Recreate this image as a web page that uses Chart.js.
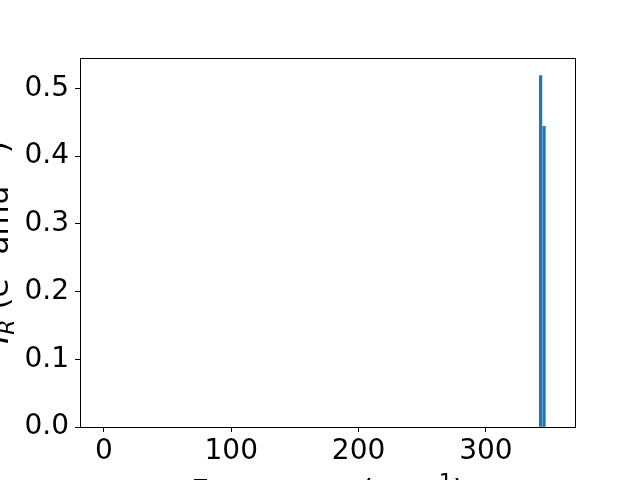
<!DOCTYPE html>
<html>
<head>
<meta charset="utf-8">
<script src="https://cdn.jsdelivr.net/npm/chart.js@4"></script>
<style>
  html, body { margin: 0; padding: 0; background: #fff; }
  #wrap { width: 640px; height: 480px; }
</style>
</head>
<body>
<div id="wrap"><canvas id="irChart" width="640" height="480"></canvas></div>
<script>
// mode frequencies (cm-1) and IR intensities
const frequencies = [343.0, 345.7];
const intensities = [0.519, 0.444];
const xTicks = [0, 100, 200, 300];
const yTicks = [0.0, 0.1, 0.2, 0.3, 0.4, 0.5];

const FONT = 'DejaVu Sans';

// draws a list of [text, sizeScale, yShift, italic] runs starting at x,y
const drawRuns = (ctx, runs, x, y, base) => {
    let cx = x;
    runs.forEach(([txt, scale, shift, italic]) => {
        ctx.font = (italic ? 'italic ' : '') + Math.round(base * scale) + 'px "' + FONT + '"';
        ctx.fillText(txt, cx, y + shift * base);
        cx += ctx.measureText(txt).width;
    });
};
const runsWidth = (ctx, runs, base) => {
    let w = 0;
    runs.forEach(([txt, scale, shift, italic]) => {
        ctx.font = (italic ? 'italic ' : '') + Math.round(base * scale) + 'px "' + FONT + '"';
        w += ctx.measureText(txt).width;
    });
    return w;
};

const frameAndTitles = {
    id: 'frameAndTitles',
    afterDraw(chart) {
        const { ctx, chartArea: a } = chart;
        ctx.save();
        ctx.strokeStyle = '#000';
        ctx.lineWidth = 1;
        ctx.strokeRect(a.left + 0.5, a.top + 0.5, a.right - a.left - 1, a.bottom - a.top);

        ctx.fillStyle = '#000';
        ctx.textBaseline = 'alphabetic';
        const base = 31;

        // x axis title (cut off by the bottom edge, like the original)
        const xRuns = [['Frequency (cm', 1, 0, false], ['\u22121', 0.7, -0.4, false], [')', 1, 0, false]];
        const xw = runsWidth(ctx, xRuns, base);
        drawRuns(ctx, xRuns, (a.left + a.right) / 2 - xw / 2, 501, base);

        // y axis title, rotated
        const yRuns = [['I', 1, 0, true], ['R', 0.7, 0.2, true], [' (e', 1, 0, false], ['2', 0.7, -0.4, false],
                       [' amu', 1, 0, false], ['\u22121', 0.7, -0.4, false], [')', 1, 0, false]];
        const yw = runsWidth(ctx, yRuns, base);
        ctx.translate(8, (a.top + a.bottom) / 2);
        ctx.rotate(-Math.PI / 2);
        drawRuns(ctx, yRuns, -yw / 2, 0, base);
        ctx.restore();
    }
};

const ctx = document.getElementById('irChart').getContext('2d');
new Chart(ctx, {
    type: 'bar',
    data: {
        datasets: [{
            data: frequencies.map((f, i) => ({ x: f, y: intensities[i] })),
            backgroundColor: '#1f77b4',
            borderWidth: 0,
            barThickness: 2.6
        }]
    },
    options: {
        responsive: false,
        animation: false,
        layout: { padding: { top: 58, right: 64, left: 0, bottom: 0 } },
        plugins: { legend: { display: false }, tooltip: { enabled: false } },
        scales: {
            x: {
                type: 'linear',
                min: -18.8,
                max: 370.8,
                offset: false,
                afterFit: (s) => { s.height = 53; },
                afterBuildTicks: (s) => { s.ticks = xTicks.map(v => ({ value: v })); },
                grid: { drawOnChartArea: false, drawTicks: true, tickLength: 5, color: '#000', offset: false },
                border: { display: false },
                ticks: { color: '#000', padding: 3, maxRotation: 0, font: { family: FONT, size: 28 } }
            },
            y: {
                min: 0,
                max: 0.545,
                afterFit: (s) => { s.width = 80; },
                afterBuildTicks: (s) => { s.ticks = yTicks.map(v => ({ value: v })); },
                grid: { drawOnChartArea: false, drawTicks: true, tickLength: 5, color: '#000' },
                border: { display: false },
                ticks: { color: '#000', padding: 6, font: { family: FONT, size: 28 }, callback: v => v.toFixed(1) }
            }
        }
    },
    plugins: [frameAndTitles]
});
</script>
</body>
</html>
